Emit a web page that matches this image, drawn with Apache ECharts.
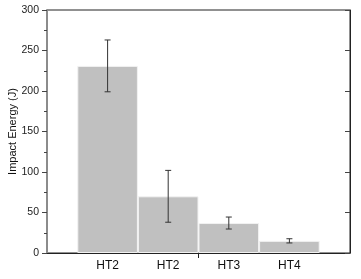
<!DOCTYPE html>
<html>
<head>
<meta charset="utf-8">
<script src="https://cdn.jsdelivr.net/npm/echarts@6/dist/echarts.min.js"></script>
<style>
html,body{margin:0;padding:0;background:#fff;}
#chart{width:361px;height:279px;}
</style>
</head>
<body>
<div id="chart"></div>
<script>
// 样品名称和冲击功
var categories = ['HT2', 'HT2', 'HT3', 'HT4'];
var positions = [1, 2, 3, 4];
var energy = [231, 70, 37, 15];
var errLow = [199, 38, 29.6, 12.4];
var errHigh = [263, 102, 44.4, 17.6];

var myChart = echarts.init(document.getElementById('chart'));

var barData = positions.map(function (p, i) { return [p, energy[i]]; });
var errData = positions.map(function (p, i) { return [p, errLow[i], errHigh[i]]; });

var option = {
    animation: false,
    grid: {
        left: 47, top: 10, right: 11, bottom: 26,
        outerBoundsMode: 'none',
        containLabel: false,
        show: true, borderColor: '#222', borderWidth: 1
    },
    xAxis: {
        type: 'value',
        min: 0, max: 5,
        splitLine: {show: false},
        axisLine: {lineStyle: {color: '#222', width: 1}},
        axisTick: {show: true, customValues: [2.5], length: 5, lineStyle: {color: '#222'}},
        axisLabel: {
            customValues: positions,
            margin: 7,
            fontSize: 12,
            fontFamily: 'Liberation Sans',
            color: '#111',
            formatter: function (v) {
                var i = positions.indexOf(v);
                return i >= 0 ? categories[i] : '';
            }
        }
    },
    yAxis: [
        {
            type: 'value',
            min: 0, max: 300, interval: 50,
            name: 'Impact Energy (J)',
            nameLocation: 'middle',
            nameRotate: 90,
            nameGap: 29,
            nameMoveOverlap: false,
            nameTextStyle: {fontSize: 11, fontFamily: 'Liberation Sans', color: '#111'},
            splitLine: {show: false},
            axisLine: {show: true, lineStyle: {color: '#8c8c8c', width: 2}},
            axisTick: {show: true, length: 5, lineStyle: {color: '#444'}},
            minorTick: {show: true, splitNumber: 2, length: 3, lineStyle: {color: '#444'}},
            axisLabel: {fontSize: 10.5, fontFamily: 'Liberation Sans', color: '#222', margin: 8}
        },
        {
            type: 'value',
            position: 'right',
            min: 0, max: 300, interval: 50,
            splitLine: {show: false},
            axisLine: {show: true, lineStyle: {color: '#222', width: 1}},
            axisTick: {show: true, inside: true, length: 5, lineStyle: {color: '#444'}},
            minorTick: {show: false},
            axisLabel: {show: false}
        }
    ],
    series: [
        {
            type: 'bar',
            data: barData,
            barWidth: '100%',
            itemStyle: {color: '#c0c0c0', borderColor: '#f2f2f2', borderWidth: 1}
        },
        {
            type: 'custom',
            data: errData,
            z: 10,
            renderItem: function (params, api) {
                var x = api.value(0);
                var lo = api.coord([x, api.value(1)]);
                var hi = api.coord([x, api.value(2)]);
                var hw = 3;
                var style = {stroke: '#333', lineWidth: 1};
                return {
                    type: 'group',
                    children: [
                        {type: 'line', shape: {x1: lo[0], y1: lo[1], x2: hi[0], y2: hi[1]}, style: style},
                        {type: 'line', shape: {x1: lo[0] - hw, y1: lo[1], x2: lo[0] + hw, y2: lo[1]}, style: style},
                        {type: 'line', shape: {x1: hi[0] - hw, y1: hi[1], x2: hi[0] + hw, y2: hi[1]}, style: style}
                    ]
                };
            }
        }
    ]
};

myChart.setOption(option);
</script>
</body>
</html>
